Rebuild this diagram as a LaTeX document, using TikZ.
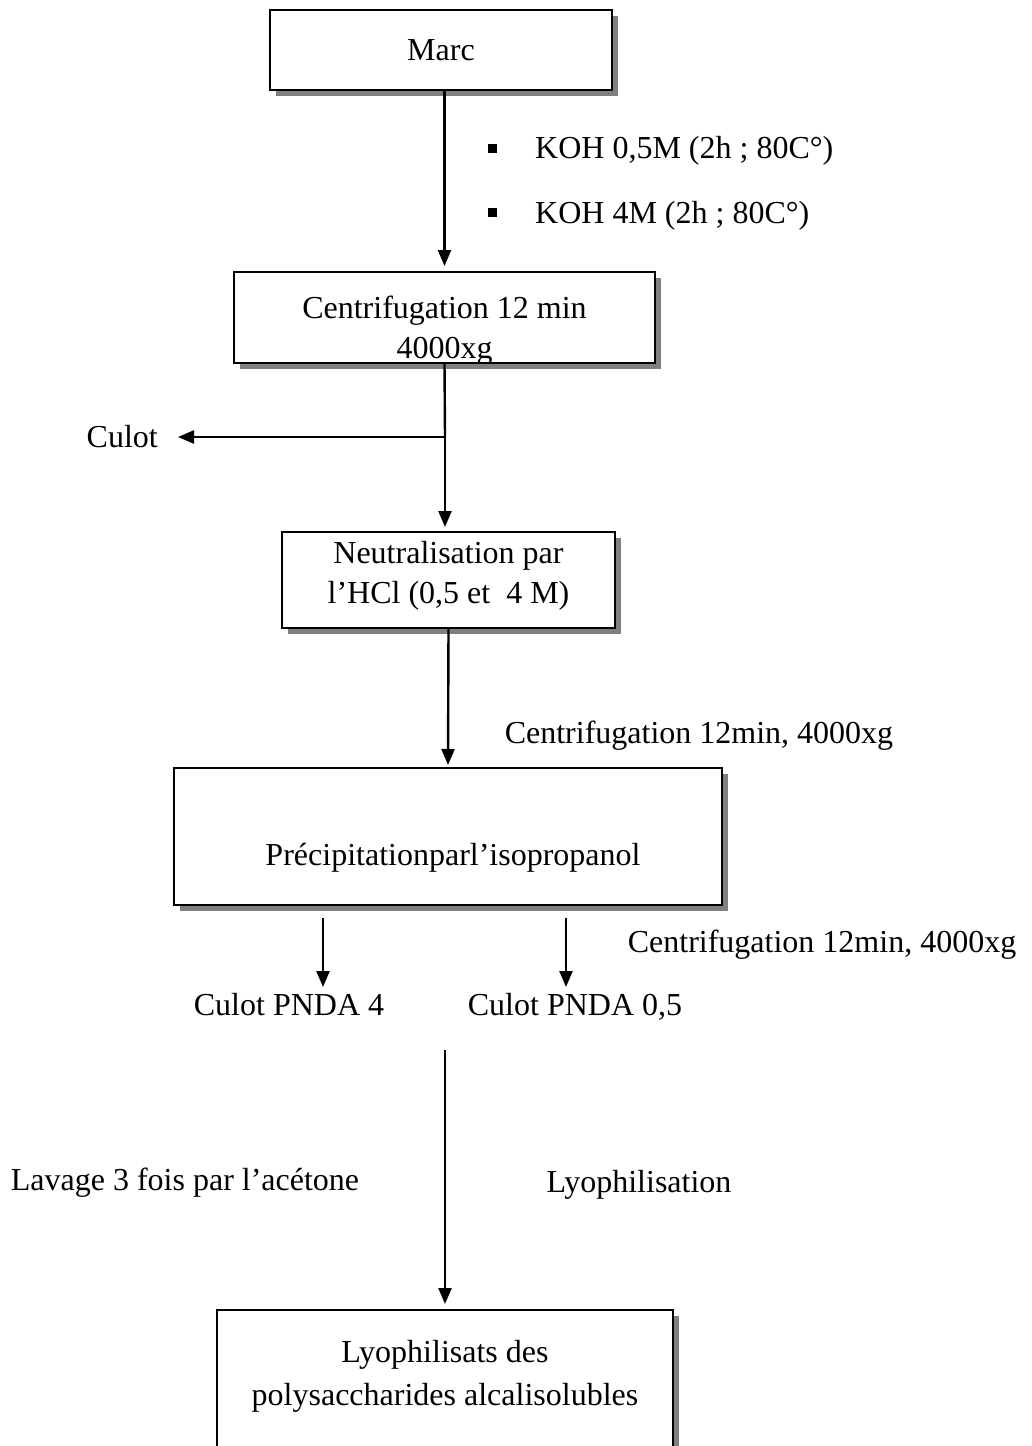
\documentclass[tikz,border=0pt]{standalone}
\usepackage{fontspec}
\setmainfont{Liberation Serif}
\usetikzlibrary{arrows.meta,shadows}
\begin{document}
\begin{tikzpicture}[x=1pt,y=-1pt,
  box/.style={draw=black,line width=2.4pt,fill=white,inner sep=0pt,outer sep=0pt,anchor=north west,
    general shadow={fill=black!50,draw=none,shadow xshift=6pt,shadow yshift=-6pt}},
  txt/.style={inner sep=0pt,anchor=base,font=\fontsize{32}{40}\selectfont},
  arr/.style={line width=2.4pt,-{Triangle[length=16pt,width=13pt]}},
  ln/.style={line width=2.4pt},
  bul/.style={fill=black,minimum size=9pt,inner sep=0pt}]
\clip (0,0) rectangle (1031,1446);
\fill[white] (0,0) rectangle (1031,1446);
% boxes
\node[box,minimum width=342pt,minimum height=80pt] (marc) at (270,10) {};
\node[box,minimum width=421pt,minimum height=91pt] (cent) at (234,272) {};
\node[box,minimum width=333pt,minimum height=96pt] (neut) at (282,532) {};
\node[box,minimum width=548pt,minimum height=137pt] (prec) at (174,768) {};
\node[box,minimum width=456pt,minimum height=200pt] (lyo) at (217,1310) {};
% box texts
\node[txt] (tmarc) at (441,60) {Marc};
\begin{scope}
\clip (235,273) rectangle (654,362);
\node[txt] (tcent1) at (444.5,318) {Centrifugation 12 min};
\node[txt] (tcent2) at (444.5,358) {4000xg};
\end{scope}
\node[txt] (tneut1) at (448.5,563) {Neutralisation par};
\node[txt] (tneut2) at (448.5,603) {l’HCl (0,5 et\ \ 4 M)};
\node[txt] (tprec) at (453,865) {Précipitationparl’isopropanol};
\node[txt] (tlyo1) at (445,1362) {Lyophilisats des};
\node[txt] (tlyo2) at (445,1405) {polysaccharides alcalisolubles};
% labels
\node[bul] (b1) at (492,148) {};
\node[bul] (b2) at (492,212) {};
\node[txt,anchor=base west] (koh1) at (535,158) {KOH 0,5M (2h ; 80C°)};
\node[txt,anchor=base west] (koh2) at (535,223) {KOH 4M (2h ; 80C°)};
\node[txt,anchor=base east] (culot) at (158,447) {Culot};
\node[txt] (lab1) at (699,743) {Centrifugation 12min, 4000xg};
\node[txt] (lab2) at (822,952) {Centrifugation 12min, 4000xg};
\node[txt] (p4) at (289,1015) {Culot PNDA 4};
\node[txt] (p05) at (575,1015) {Culot PNDA 0,5};
\node[txt] (lav) at (185,1190) {Lavage 3 fois par l’acétone};
\node[txt] (lyoph) at (639,1192) {Lyophilisation};
% connectors
\coordinate (j) at (445,437);
\draw[arr,shorten >=6pt] (cent.north |- marc.south) -- (cent.north);
\draw[ln] (cent.south) -- (j);
\draw[arr,shorten >=20pt] (j) -- (j -| culot.east);
\draw[arr,shorten >=5pt] (j) -- (j |- neut.north);
\draw[arr,shorten >=3pt] (neut.south) -- (prec.north);
\coordinate (a1) at (323,918);
\coordinate (a2) at (566,918);
\draw[arr] (a1) -- (323,987);
\draw[arr] (a2) -- (566,987);
\coordinate (s) at (445,1050);
\draw[arr,shorten >=6pt] (s) -- (lyo.north);
\end{tikzpicture}
\end{document}
